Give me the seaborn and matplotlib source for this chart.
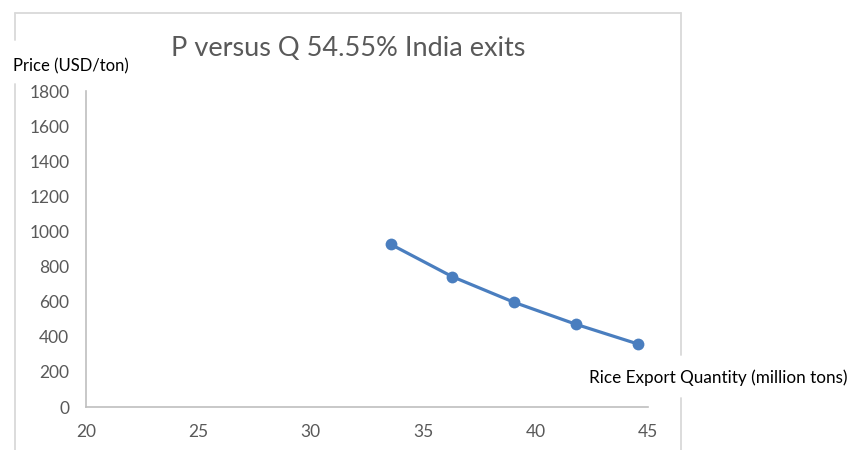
import matplotlib
matplotlib.use("Agg")
import matplotlib.pyplot as plt
from matplotlib.lines import Line2D
import seaborn as sns
import pandas as pd

# Export quantity (million tons) and world price (USD/ton)
quantity = [33.55, 36.3, 39.05, 41.8, 44.55]
price = [927, 742, 596, 471, 359]

x_ticks = [20, 25, 30, 35, 40, 45]
y_ticks = [0, 200, 400, 600, 800, 1000, 1200, 1400, 1600, 1800]

title = "P versus Q 54.55% India exits"
x_label = "Rice Export Quantity (million tons)"
y_label = "Price (USD/ton)"

df = pd.DataFrame({"quantity": quantity, "price": price})

sns.set_theme(style="white")
plt.rcParams["font.family"] = ["Lato", "DejaVu Sans"]

W, H = 852, 450
fig = plt.figure(figsize=(W / 100, H / 100), dpi=100)
fig.patch.set_facecolor("white")

ax = fig.add_axes([86 / W, (H - 407) / H, (648 - 86) / W, (407 - 91) / H])
ax.set_facecolor("white")

line_color = "#4A7EBF"
sns.lineplot(data=df, x="quantity", y="price", ax=ax, sort=False,
             color=line_color, linewidth=2.3, marker="o", markersize=8.5,
             markeredgecolor=line_color, markeredgewidth=0)

ax.set_xlim(x_ticks[0], x_ticks[-1])
ax.set_ylim(y_ticks[0], y_ticks[-1])
ax.set_xticks(x_ticks)
ax.set_yticks(y_ticks)
ax.tick_params(axis="both", length=0, labelsize=12.5, labelcolor="#595959")
ax.tick_params(axis="y", pad=12)
ax.tick_params(axis="x", pad=12)
ax.set_xlabel("")
ax.set_ylabel("")
for side in ("top", "right"):
    ax.spines[side].set_visible(False)
for side in ("left", "bottom"):
    ax.spines[side].set_color("#bfbfbf")
    ax.spines[side].set_linewidth(1.2)
ax.grid(False)


def px(x, y):
    return x / W, 1 - y / H


# chart frame, broken where the axis titles sit
frame = dict(color="#d9d9d9", linewidth=1.3)
segments = [
    [(15, 13), (681, 13)],
    [(15, 13), (15, 40)],
    [(15, 84), (15, 452)],
    [(681, 13), (681, 355)],
    [(681, 398), (681, 452)],
]
for (x0, y0), (x1, y1) in segments:
    a, b = px(x0, y0)
    c, d = px(x1, y1)
    fig.add_artist(Line2D([a, c], [b, d], transform=fig.transFigure, **frame))

fig.text(*px(348, 48), title, ha="center", va="center",
         fontsize=19.5, color="#595959")
fig.text(*px(13, 66), y_label, ha="left", va="center",
         fontsize=12, color="black")
fig.text(*px(589, 378), x_label, ha="left", va="center",
         fontsize=12.3, color="black")

fig.savefig("out.png", dpi=100, facecolor="white")
